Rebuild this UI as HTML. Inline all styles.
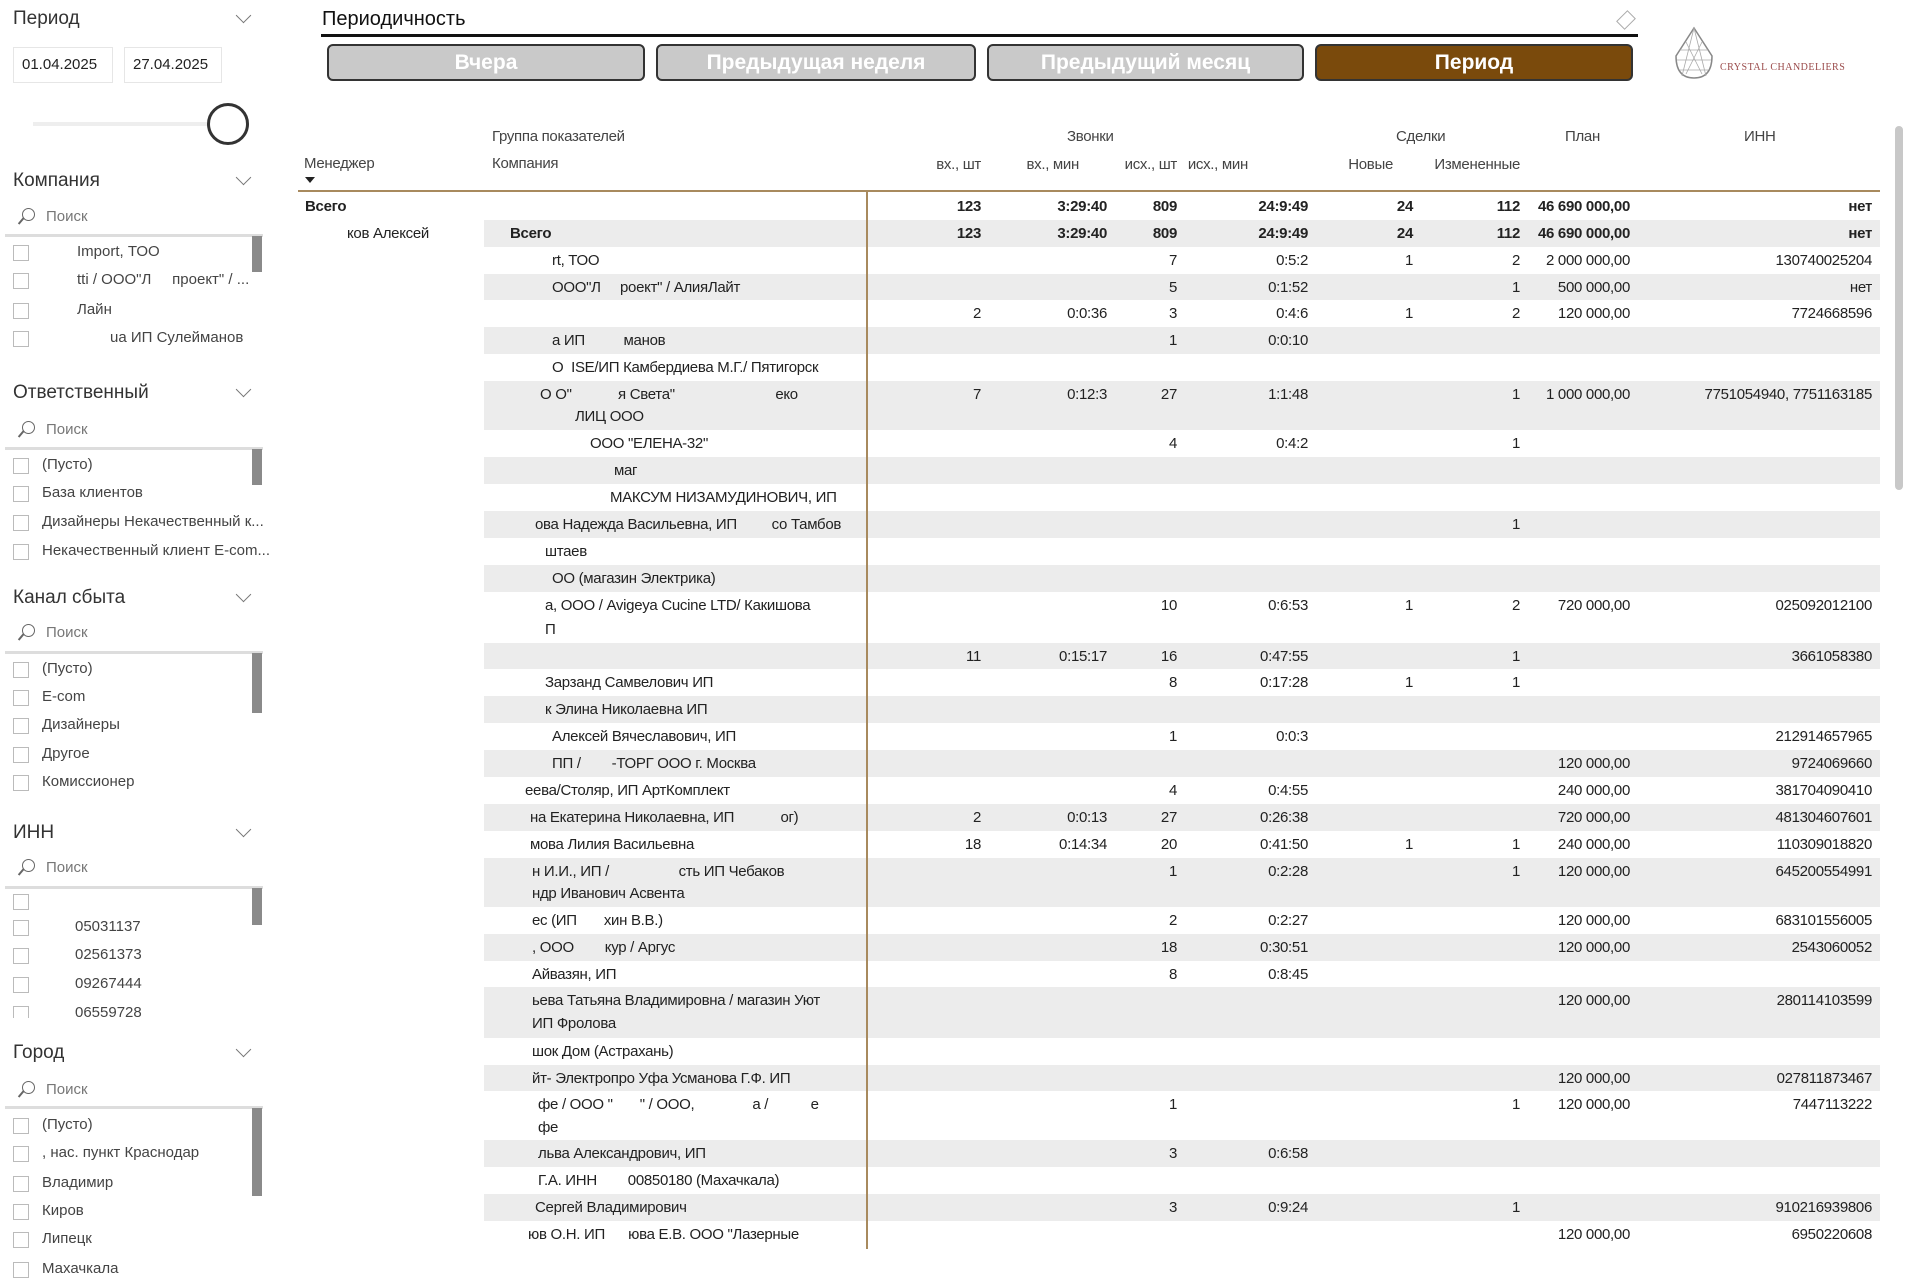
<!DOCTYPE html>
<html><head><meta charset="utf-8">
<style>
*{margin:0;padding:0;box-sizing:border-box}
body{width:1920px;height:1280px;position:relative;background:#fff;font-family:"Liberation Sans","DejaVu Sans",sans-serif;color:#222;overflow:hidden}
.a{position:absolute;white-space:nowrap}
.h{font-size:19px;color:#333}
.chev{position:absolute;width:11px;height:11px;border-right:1.5px solid #777;border-bottom:1.5px solid #777;transform:rotate(45deg)}
.srch{font-size:15px;color:#777}
.lens{position:absolute;width:13px;height:13px;border:1.5px solid #666;border-radius:50%}
.lens:after{content:"";position:absolute;left:-6px;top:11px;width:8px;height:1.5px;background:#666;transform:rotate(-50deg)}
.sep{position:absolute;left:5px;width:258px;height:3px;background:#ddd}
.cb{position:absolute;width:16px;height:16px;border:1px solid #bbb;background:#fff}
.it{font-size:15px;color:#444}
.sb{position:absolute;left:252px;width:10px;background:#8a8a8a}
.btn{position:absolute;top:44px;height:37px;border:2px solid #333;border-radius:6px;background:#c9c9c9;color:#fff;font-weight:bold;font-size:21px;text-align:center;line-height:33px}
.row{position:absolute;left:484px;width:1396px}
.sh{background:#ececec}
.c{position:absolute;width:160px;text-align:right;font-size:15px;line-height:27px;letter-spacing:-0.3px;white-space:nowrap}
.t{position:absolute;font-size:15px;line-height:25px;letter-spacing:-0.3px;white-space:nowrap}
.hd{font-size:15px;color:#444;letter-spacing:-0.3px}
b{font-weight:bold}
</style></head><body>

<!-- left panel -->
<div class="a h" style="left:13px;top:8px">Период</div><div class="chev" style="left:238px;top:10px"></div>
<div class="a" style="left:13px;top:47px;width:100px;height:36px;border:1px solid #e6e6e6;font-size:15px;line-height:34px;padding-left:8px">01.04.2025</div>
<div class="a" style="left:124px;top:47px;width:98px;height:36px;border:1px solid #e6e6e6;font-size:15px;line-height:34px;padding-left:8px">27.04.2025</div>
<div class="a" style="left:33px;top:122px;width:180px;height:4px;background:#eee"></div>
<div class="a" style="left:207px;top:103px;width:42px;height:42px;border:3px solid #333;border-radius:50%;background:#fff"></div>

<div class="a h" style="left:13px;top:170px">Компания</div><div class="chev" style="left:238px;top:172px"></div>
<div class="lens" style="left:22px;top:208px"></div><div class="a srch" style="left:46px;top:208px">Поиск</div>
<div class="sep" style="top:234px"></div><div class="sb" style="top:236px;height:36px"></div>
<div class="cb" style="left:13px;top:245px"></div><div class="a it" style="left:77px;top:243px">Import, ТОО</div>
<div class="cb" style="left:13px;top:273px"></div><div class="a it" style="left:77px;top:271px">tti / ООО"Л&nbsp;&nbsp;&nbsp;&nbsp;&nbsp;проект" / ...</div>
<div class="cb" style="left:13px;top:303px"></div><div class="a it" style="left:77px;top:301px">Лайн</div>
<div class="cb" style="left:13px;top:331px"></div><div class="a it" style="left:110px;top:329px">ua ИП Сулейманов</div>

<div class="a h" style="left:13px;top:382px">Ответственный</div><div class="chev" style="left:238px;top:384px"></div>
<div class="lens" style="left:22px;top:421px"></div><div class="a srch" style="left:46px;top:421px">Поиск</div>
<div class="sep" style="top:447px"></div><div class="sb" style="top:449px;height:36px"></div>
<div class="cb" style="left:13px;top:458px"></div><div class="a it" style="left:42px;top:456px">(Пусто)</div>
<div class="cb" style="left:13px;top:486px"></div><div class="a it" style="left:42px;top:484px">База клиентов</div>
<div class="cb" style="left:13px;top:515px"></div><div class="a it" style="left:42px;top:513px">Дизайнеры Некачественный к...</div>
<div class="cb" style="left:13px;top:544px"></div><div class="a it" style="left:42px;top:542px">Некачественный клиент E-com...</div>

<div class="a h" style="left:13px;top:587px">Канал сбыта</div><div class="chev" style="left:238px;top:589px"></div>
<div class="lens" style="left:22px;top:624px"></div><div class="a srch" style="left:46px;top:624px">Поиск</div>
<div class="sep" style="top:651px"></div><div class="sb" style="top:653px;height:60px"></div>
<div class="cb" style="left:13px;top:662px"></div><div class="a it" style="left:42px;top:660px">(Пусто)</div>
<div class="cb" style="left:13px;top:690px"></div><div class="a it" style="left:42px;top:688px">E-com</div>
<div class="cb" style="left:13px;top:718px"></div><div class="a it" style="left:42px;top:716px">Дизайнеры</div>
<div class="cb" style="left:13px;top:747px"></div><div class="a it" style="left:42px;top:745px">Другое</div>
<div class="cb" style="left:13px;top:775px"></div><div class="a it" style="left:42px;top:773px">Комиссионер</div>

<div class="a h" style="left:13px;top:822px">ИНН</div><div class="chev" style="left:238px;top:824px"></div>
<div class="lens" style="left:22px;top:859px"></div><div class="a srch" style="left:46px;top:859px">Поиск</div>
<div class="sep" style="top:886px"></div><div class="sb" style="top:888px;height:37px"></div>
<div class="cb" style="left:13px;top:894px"></div>
<div class="cb" style="left:13px;top:920px"></div><div class="a it" style="left:75px;top:918px">05031137</div>
<div class="cb" style="left:13px;top:948px"></div><div class="a it" style="left:75px;top:946px">02561373</div>
<div class="cb" style="left:13px;top:977px"></div><div class="a it" style="left:75px;top:975px">09267444</div>
<div class="cb" style="left:13px;top:1006px;height:12px;border-bottom:none"></div><div class="a it" style="left:75px;top:1004px">06559728</div>

<div class="a h" style="left:13px;top:1042px">Город</div><div class="chev" style="left:238px;top:1044px"></div>
<div class="lens" style="left:22px;top:1081px"></div><div class="a srch" style="left:46px;top:1081px">Поиск</div>
<div class="sep" style="top:1106px"></div><div class="sb" style="top:1108px;height:88px"></div>
<div class="cb" style="left:13px;top:1118px"></div><div class="a it" style="left:42px;top:1116px">(Пусто)</div>
<div class="cb" style="left:13px;top:1146px"></div><div class="a it" style="left:42px;top:1144px">, нас. пункт Краснодар</div>
<div class="cb" style="left:13px;top:1176px"></div><div class="a it" style="left:42px;top:1174px">Владимир</div>
<div class="cb" style="left:13px;top:1204px"></div><div class="a it" style="left:42px;top:1202px">Киров</div>
<div class="cb" style="left:13px;top:1232px"></div><div class="a it" style="left:42px;top:1230px">Липецк</div>
<div class="cb" style="left:13px;top:1262px"></div><div class="a it" style="left:42px;top:1260px">Махачкала</div>

<!-- top -->
<div class="a" style="left:322px;top:8px;font-size:20px;color:#111">Периодичность</div>
<div class="a" style="left:321px;top:34px;width:1317px;height:3px;background:#111"></div>
<div class="a" style="left:1620px;top:12px;width:12px;height:16px;border:1.5px solid #aaa;transform:rotate(45deg)"></div>
<div class="btn" style="left:327px;width:318px">Вчера</div>
<div class="btn" style="left:656px;width:320px">Предыдущая неделя</div>
<div class="btn" style="left:987px;width:317px">Предыдущий месяц</div>
<div class="btn" style="left:1315px;width:318px;background:#7a4a0c">Период</div>
<svg class="a" style="left:1672px;top:26px" width="44" height="56" viewBox="0 0 44 56"><path d="M22 2 L40 30 Q40 52 22 52 Q4 52 4 30 Z" fill="none" stroke="#888" stroke-width="1.5"/><path d="M8 24 L36 24 M5 34 L39 34 M8 44 L36 44 M22 2 L10 50 M22 2 L34 50 M14 16 L30 48 M30 16 L14 48" stroke="#aaa" stroke-width="0.8" fill="none"/></svg>
<div class="a" style="left:1720px;top:62px;font-family:'Liberation Serif',serif;font-size:10px;color:#9a4a4a;letter-spacing:0.5px">CRYSTAL CHANDELIERS</div>

<!-- headers -->
<div class="a hd" style="left:492px;top:128px">Группа показателей</div>
<div class="a hd" style="left:304px;top:155px">Менеджер</div>
<div class="a" style="left:305px;top:177px;width:0;height:0;border-left:5px solid transparent;border-right:5px solid transparent;border-top:6px solid #222"></div>
<div class="a hd" style="left:492px;top:155px">Компания</div>
<div class="a hd" style="left:1067px;top:128px">Звонки</div>
<div class="a hd" style="left:1396px;top:128px">Сделки</div>
<div class="a hd" style="left:1565px;top:128px">План</div>
<div class="a hd" style="left:1744px;top:128px">ИНН</div>
<div class="c hd" style="left:821px;top:151px">вх., шт</div>
<div class="c hd" style="left:919px;top:151px">вх., мин</div>
<div class="c hd" style="left:1017px;top:151px">исх., шт</div>
<div class="c hd" style="left:1088px;top:151px">исх., мин</div>
<div class="c hd" style="left:1233px;top:151px">Новые</div>
<div class="c hd" style="left:1360px;top:151px">Измененные</div>
<div class="a" style="left:298px;top:190px;width:1582px;height:2px;background:#a88a5e"></div>
<div class="a" style="left:1895px;top:126px;width:8px;height:364px;background:#c8c8c8;border-radius:4px"></div>

<div class="t" style="left:305px;top:194px;font-weight:bold">Всего</div>
<div class="c" style="left:821px;top:193px"><b>123</b></div><div class="c" style="left:947px;top:193px"><b>3:29:40</b></div><div class="c" style="left:1017px;top:193px"><b>809</b></div><div class="c" style="left:1148px;top:193px"><b>24:9:49</b></div><div class="c" style="left:1253px;top:193px"><b>24</b></div><div class="c" style="left:1360px;top:193px"><b>112</b></div><div class="c" style="left:1470px;top:193px"><b>46 690 000,00</b></div><div class="c" style="left:1712px;top:193px"><b>нет</b></div>

<div class="row sh" style="top:220px;height:27px"></div>
<div class="t" style="left:347px;top:221px">ков Алексей</div><div class="t" style="left:510px;top:221px;font-weight:bold">Всего</div>
<div class="c" style="left:821px;top:220px"><b>123</b></div><div class="c" style="left:947px;top:220px"><b>3:29:40</b></div><div class="c" style="left:1017px;top:220px"><b>809</b></div><div class="c" style="left:1148px;top:220px"><b>24:9:49</b></div><div class="c" style="left:1253px;top:220px"><b>24</b></div><div class="c" style="left:1360px;top:220px"><b>112</b></div><div class="c" style="left:1470px;top:220px"><b>46 690 000,00</b></div><div class="c" style="left:1712px;top:220px"><b>нет</b></div>

<div class="t" style="left:552px;top:248px">rt, ТОО</div>
<div class="c" style="left:1017px;top:247px">7</div><div class="c" style="left:1148px;top:247px">0:5:2</div><div class="c" style="left:1253px;top:247px">1</div><div class="c" style="left:1360px;top:247px">2</div><div class="c" style="left:1470px;top:247px">2 000 000,00</div><div class="c" style="left:1712px;top:247px">130740025204</div>

<div class="row sh" style="top:274px;height:26px"></div>
<div class="t" style="left:552px;top:275px">ООО"Л&nbsp;&nbsp;&nbsp;&nbsp;&nbsp;роект" / АлияЛайт</div>
<div class="c" style="left:1017px;top:274px">5</div><div class="c" style="left:1148px;top:274px">0:1:52</div><div class="c" style="left:1360px;top:274px">1</div><div class="c" style="left:1470px;top:274px">500 000,00</div><div class="c" style="left:1712px;top:274px">нет</div>

<div class="c" style="left:821px;top:300px">2</div><div class="c" style="left:947px;top:300px">0:0:36</div><div class="c" style="left:1017px;top:300px">3</div><div class="c" style="left:1148px;top:300px">0:4:6</div><div class="c" style="left:1253px;top:300px">1</div><div class="c" style="left:1360px;top:300px">2</div><div class="c" style="left:1470px;top:300px">120 000,00</div><div class="c" style="left:1712px;top:300px">7724668596</div>

<div class="row sh" style="top:327px;height:27px"></div>
<div class="t" style="left:552px;top:328px">а ИП&nbsp;&nbsp;&nbsp;&nbsp;&nbsp;&nbsp;&nbsp;&nbsp;&nbsp;&nbsp;манов</div>
<div class="c" style="left:1017px;top:327px">1</div><div class="c" style="left:1148px;top:327px">0:0:10</div>

<div class="t" style="left:552px;top:355px">О&nbsp;&nbsp;ISE/ИП Камбердиева М.Г./ Пятигорск</div>

<div class="row sh" style="top:381px;height:49px"></div>
<div class="t" style="left:540px;top:382px">О О"&nbsp;&nbsp;&nbsp;&nbsp;&nbsp;&nbsp;&nbsp;&nbsp;&nbsp;&nbsp;&nbsp;&nbsp;я Света"&nbsp;&nbsp;&nbsp;&nbsp;&nbsp;&nbsp;&nbsp;&nbsp;&nbsp;&nbsp;&nbsp;&nbsp;&nbsp;&nbsp;&nbsp;&nbsp;&nbsp;&nbsp;&nbsp;&nbsp;&nbsp;&nbsp;&nbsp;&nbsp;&nbsp;&nbsp;еко</div>
<div class="t" style="left:575px;top:404px">ЛИЦ ООО</div>
<div class="c" style="left:821px;top:381px">7</div><div class="c" style="left:947px;top:381px">0:12:3</div><div class="c" style="left:1017px;top:381px">27</div><div class="c" style="left:1148px;top:381px">1:1:48</div><div class="c" style="left:1360px;top:381px">1</div><div class="c" style="left:1470px;top:381px">1 000 000,00</div><div class="c" style="left:1572px;top:381px;width:300px">7751054940, 7751163185</div>

<div class="t" style="left:590px;top:431px">ООО "ЕЛЕНА-32"</div>
<div class="c" style="left:1017px;top:430px">4</div><div class="c" style="left:1148px;top:430px">0:4:2</div><div class="c" style="left:1360px;top:430px">1</div>

<div class="row sh" style="top:457px;height:27px"></div>
<div class="t" style="left:614px;top:458px">маг</div>

<div class="t" style="left:610px;top:485px">МАКСУМ НИЗАМУДИНОВИЧ, ИП</div>

<div class="row sh" style="top:511px;height:27px"></div>
<div class="t" style="left:535px;top:512px">ова Надежда Васильевна, ИП&nbsp;&nbsp;&nbsp;&nbsp;&nbsp;&nbsp;&nbsp;&nbsp;&nbsp;со Тамбов</div>
<div class="c" style="left:1360px;top:511px">1</div>

<div class="t" style="left:545px;top:539px">штаев</div>

<div class="row sh" style="top:565px;height:27px"></div>
<div class="t" style="left:552px;top:566px">ОО (магазин Электрика)</div>

<div class="t" style="left:545px;top:593px">а, ООО / Avigeya Cucine LTD/ Какишова</div>
<div class="t" style="left:545px;top:617px">П</div>
<div class="c" style="left:1017px;top:592px">10</div><div class="c" style="left:1148px;top:592px">0:6:53</div><div class="c" style="left:1253px;top:592px">1</div><div class="c" style="left:1360px;top:592px">2</div><div class="c" style="left:1470px;top:592px">720 000,00</div><div class="c" style="left:1712px;top:592px">025092012100</div>

<div class="row sh" style="top:643px;height:26px"></div>
<div class="c" style="left:821px;top:643px">11</div><div class="c" style="left:947px;top:643px">0:15:17</div><div class="c" style="left:1017px;top:643px">16</div><div class="c" style="left:1148px;top:643px">0:47:55</div><div class="c" style="left:1360px;top:643px">1</div><div class="c" style="left:1712px;top:643px">3661058380</div>

<div class="t" style="left:545px;top:670px">Зарзанд Самвелович ИП</div>
<div class="c" style="left:1017px;top:669px">8</div><div class="c" style="left:1148px;top:669px">0:17:28</div><div class="c" style="left:1253px;top:669px">1</div><div class="c" style="left:1360px;top:669px">1</div>

<div class="row sh" style="top:696px;height:27px"></div>
<div class="t" style="left:545px;top:697px">к Элина Николаевна ИП</div>

<div class="t" style="left:552px;top:724px">Алексей Вячеславович, ИП</div>
<div class="c" style="left:1017px;top:723px">1</div><div class="c" style="left:1148px;top:723px">0:0:3</div><div class="c" style="left:1712px;top:723px">212914657965</div>

<div class="row sh" style="top:750px;height:27px"></div>
<div class="t" style="left:552px;top:751px">ПП /&nbsp;&nbsp;&nbsp;&nbsp;&nbsp;&nbsp;&nbsp;&nbsp;-ТОРГ ООО г. Москва</div>
<div class="c" style="left:1470px;top:750px">120 000,00</div><div class="c" style="left:1712px;top:750px">9724069660</div>

<div class="t" style="left:525px;top:778px">еева/Столяр, ИП АртКомплект</div>
<div class="c" style="left:1017px;top:777px">4</div><div class="c" style="left:1148px;top:777px">0:4:55</div><div class="c" style="left:1470px;top:777px">240 000,00</div><div class="c" style="left:1712px;top:777px">381704090410</div>

<div class="row sh" style="top:804px;height:27px"></div>
<div class="t" style="left:530px;top:805px">на Екатерина Николаевна, ИП&nbsp;&nbsp;&nbsp;&nbsp;&nbsp;&nbsp;&nbsp;&nbsp;&nbsp;&nbsp;&nbsp;&nbsp;ог)</div>
<div class="c" style="left:821px;top:804px">2</div><div class="c" style="left:947px;top:804px">0:0:13</div><div class="c" style="left:1017px;top:804px">27</div><div class="c" style="left:1148px;top:804px">0:26:38</div><div class="c" style="left:1470px;top:804px">720 000,00</div><div class="c" style="left:1712px;top:804px">481304607601</div>

<div class="t" style="left:530px;top:832px">мова Лилия Васильевна</div>
<div class="c" style="left:821px;top:831px">18</div><div class="c" style="left:947px;top:831px">0:14:34</div><div class="c" style="left:1017px;top:831px">20</div><div class="c" style="left:1148px;top:831px">0:41:50</div><div class="c" style="left:1253px;top:831px">1</div><div class="c" style="left:1360px;top:831px">1</div><div class="c" style="left:1470px;top:831px">240 000,00</div><div class="c" style="left:1712px;top:831px">110309018820</div>

<div class="row sh" style="top:858px;height:49px"></div>
<div class="t" style="left:532px;top:859px">н И.И., ИП /&nbsp;&nbsp;&nbsp;&nbsp;&nbsp;&nbsp;&nbsp;&nbsp;&nbsp;&nbsp;&nbsp;&nbsp;&nbsp;&nbsp;&nbsp;&nbsp;&nbsp;&nbsp;сть ИП Чебаков</div>
<div class="t" style="left:532px;top:881px">ндр Иванович Асвента</div>
<div class="c" style="left:1017px;top:858px">1</div><div class="c" style="left:1148px;top:858px">0:2:28</div><div class="c" style="left:1360px;top:858px">1</div><div class="c" style="left:1470px;top:858px">120 000,00</div><div class="c" style="left:1712px;top:858px">645200554991</div>

<div class="t" style="left:532px;top:908px">ес (ИП&nbsp;&nbsp;&nbsp;&nbsp;&nbsp;&nbsp;&nbsp;хин В.В.)</div>
<div class="c" style="left:1017px;top:907px">2</div><div class="c" style="left:1148px;top:907px">0:2:27</div><div class="c" style="left:1470px;top:907px">120 000,00</div><div class="c" style="left:1712px;top:907px">683101556005</div>

<div class="row sh" style="top:934px;height:27px"></div>
<div class="t" style="left:532px;top:935px">, ООО&nbsp;&nbsp;&nbsp;&nbsp;&nbsp;&nbsp;&nbsp;&nbsp;кур / Аргус</div>
<div class="c" style="left:1017px;top:934px">18</div><div class="c" style="left:1148px;top:934px">0:30:51</div><div class="c" style="left:1470px;top:934px">120 000,00</div><div class="c" style="left:1712px;top:934px">2543060052</div>

<div class="t" style="left:532px;top:962px">Айвазян, ИП</div>
<div class="c" style="left:1017px;top:961px">8</div><div class="c" style="left:1148px;top:961px">0:8:45</div>

<div class="row sh" style="top:987px;height:51px"></div>
<div class="t" style="left:532px;top:988px">ьева Татьяна Владимировна / магазин Уют</div>
<div class="t" style="left:532px;top:1011px">ИП Фролова</div>
<div class="c" style="left:1470px;top:987px">120 000,00</div><div class="c" style="left:1712px;top:987px">280114103599</div>

<div class="t" style="left:532px;top:1039px">шок Дом (Астрахань)</div>

<div class="row sh" style="top:1065px;height:26px"></div>
<div class="t" style="left:532px;top:1066px">йт- Электропро Уфа Усманова Г.Ф. ИП</div>
<div class="c" style="left:1470px;top:1065px">120 000,00</div><div class="c" style="left:1712px;top:1065px">027811873467</div>

<div class="t" style="left:538px;top:1092px">фе / ООО "&nbsp;&nbsp;&nbsp;&nbsp;&nbsp;&nbsp;&nbsp;" / ООО,&nbsp;&nbsp;&nbsp;&nbsp;&nbsp;&nbsp;&nbsp;&nbsp;&nbsp;&nbsp;&nbsp;&nbsp;&nbsp;&nbsp;&nbsp;а /&nbsp;&nbsp;&nbsp;&nbsp;&nbsp;&nbsp;&nbsp;&nbsp;&nbsp;&nbsp;&nbsp;е</div>
<div class="t" style="left:538px;top:1115px">фе</div>
<div class="c" style="left:1017px;top:1091px">1</div><div class="c" style="left:1360px;top:1091px">1</div><div class="c" style="left:1470px;top:1091px">120 000,00</div><div class="c" style="left:1712px;top:1091px">7447113222</div>

<div class="row sh" style="top:1140px;height:27px"></div>
<div class="t" style="left:538px;top:1141px">льва Александрович, ИП</div>
<div class="c" style="left:1017px;top:1140px">3</div><div class="c" style="left:1148px;top:1140px">0:6:58</div>

<div class="t" style="left:538px;top:1168px">Г.А. ИНН&nbsp;&nbsp;&nbsp;&nbsp;&nbsp;&nbsp;&nbsp;&nbsp;00850180 (Махачкала)</div>

<div class="row sh" style="top:1194px;height:27px"></div>
<div class="t" style="left:535px;top:1195px">Сергей Владимирович</div>
<div class="c" style="left:1017px;top:1194px">3</div><div class="c" style="left:1148px;top:1194px">0:9:24</div><div class="c" style="left:1360px;top:1194px">1</div><div class="c" style="left:1712px;top:1194px">910216939806</div>

<div class="t" style="left:528px;top:1222px">юв О.Н. ИП&nbsp;&nbsp;&nbsp;&nbsp;&nbsp;&nbsp;юва Е.В. ООО "Лазерные</div>
<div class="c" style="left:1470px;top:1221px">120 000,00</div><div class="c" style="left:1712px;top:1221px">6950220608</div>

<div class="a" style="left:866px;top:192px;width:2px;height:1057px;background:#a88a5e;z-index:5"></div>

</body></html>
